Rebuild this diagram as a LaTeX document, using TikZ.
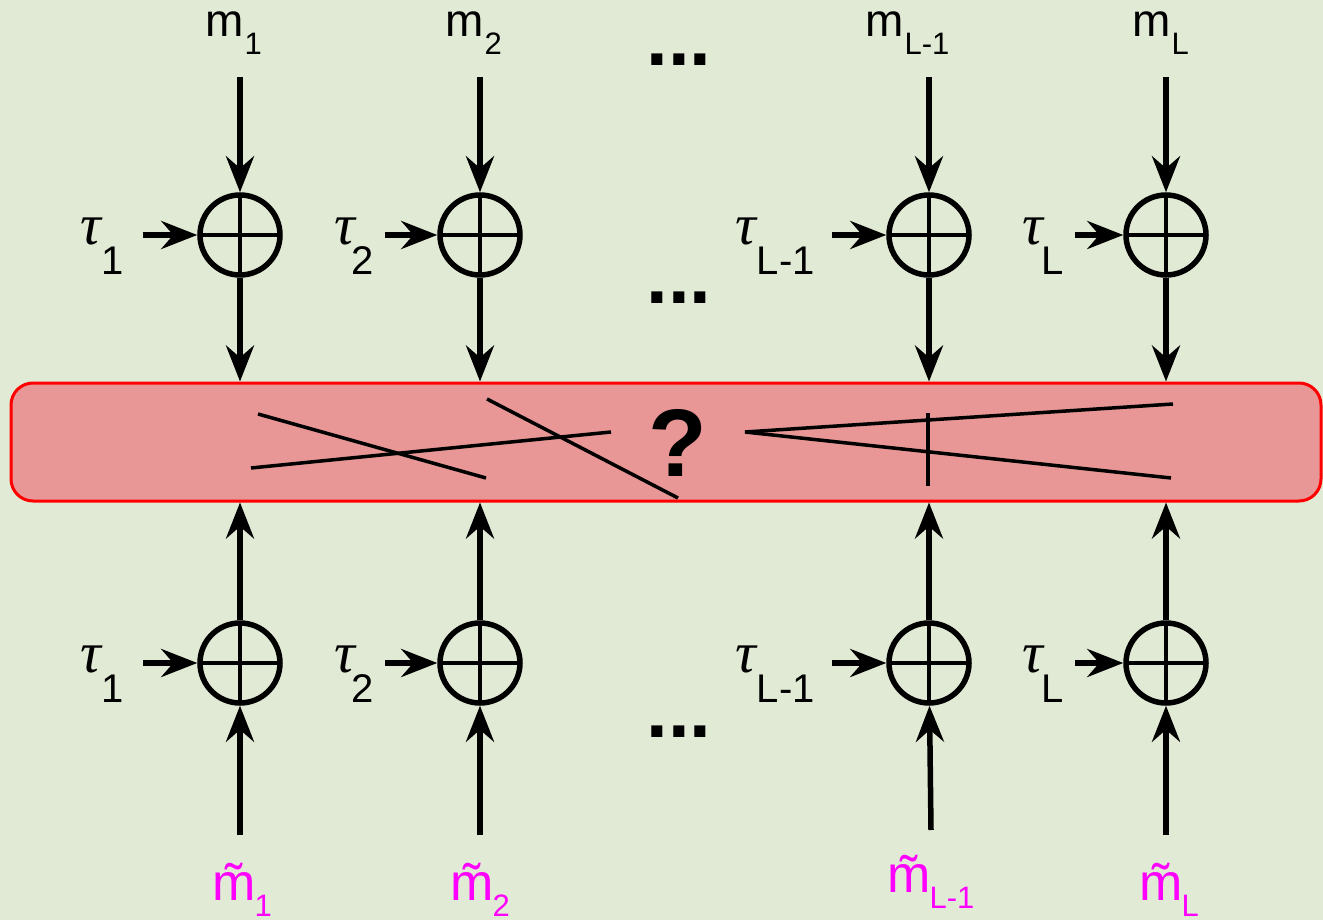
\documentclass[tikz,border=0pt]{standalone}
\usepackage{fontspec}
\setmainfont{Liberation Sans}
\newfontfamily\taufont{Liberation Serif}
\usetikzlibrary{arrows.meta}
\definecolor{bg}{RGB}{225,234,213}
\definecolor{boxfill}{RGB}{232,150,150}
\definecolor{mag}{RGB}{255,0,255}
\newcommand\fs[1]{\fontsize{#1}{#1}\selectfont}
\newcommand\tlab[3]{{\fs{58}\taufont\itshape τ}\kern#3\raisebox{-30pt}{\fs{40}#1}}
\newcommand\mlab[2]{{\fs{46}m}\kern#2\raisebox{-18pt}{\fs{31}#1}}
\newcommand\mtlab[2]{{\fs{52}\accent"02DC m}\kern#2\raisebox{-16pt}{\fs{31}#1}}
\tikzset{
  summer/.style={circle, draw, line width=5.5pt, minimum size=80pt, inner sep=0pt,
    path picture={\draw[line width=4.5pt] (path picture bounding box.north) -- (path picture bounding box.south)
      (path picture bounding box.west) -- (path picture bounding box.east);}},
  arr/.style={line width=5.5pt, -{Stealth[length=36pt,width=28pt,inset=12pt]}},
  lbl/.style={inner sep=0pt, anchor=base west},
  xline/.style={line width=3.5pt},
}
\begin{document}
\begin{tikzpicture}[x=1pt,y=-1pt]
\fill[bg] (0,0) rectangle (1323,920);
\useasboundingbox (0,0) rectangle (1323,920);
% box
\node[draw=red, fill=boxfill, line width=3pt, rounded corners=22pt, minimum width=1310pt, minimum height=118pt, inner sep=0pt] (box) at (666,442) {};
% summers
\foreach \n/\x in {1/240,2/480,3/929,4/1166}{
  \node[summer] (c\n t) at (\x,235) {};
  \node[summer] (c\n b) at (\x,663) {};
}
% top labels
\node[lbl] (m1) at (205,37) {\mlab{1}{1pt}};
\node[lbl] (m2) at (445,37) {\mlab{2}{1pt}};
\node[lbl] (m3) at (865,37) {\mlab{L-1}{1pt}};
\node[lbl] (m4) at (1132,37) {\mlab{L}{1pt}};
% bottom labels
\node[lbl, text=mag] (n1) at (212,900) {\mtlab{1}{-1pt}};
\node[lbl, text=mag] (n2) at (450,900) {\mtlab{2}{-1pt}};
\node[lbl, text=mag] (n3) at (887,892) {\mtlab{L-1}{-1pt}};
\node[lbl, text=mag] (n4) at (1139,900) {\mtlab{L}{-1pt}};
% tau labels
\foreach \r/\y in {t/244,b/672}{
  \node[lbl] (tau1\r) at (80,\y) {\tlab{1}{}{1pt}};
  \node[lbl] (tau2\r) at (334,\y) {\tlab{2}{}{-3pt}};
  \node[lbl] (tau3\r) at (735,\y) {\tlab{L-1}{}{1pt}};
  \node[lbl] (tau4\r) at (1022,\y) {\tlab{L}{}{-1pt}};
}
% coordinates
\foreach \n/\x/\tx in {1/240/143,2/480/385,3/929/832,4/1166/1075}{
  \coordinate (s\n) at (\x,77);
  \coordinate (ta\n t) at (\tx,235);
  \coordinate (ta\n b) at (\tx,663);
}
\coordinate (b1) at (240,835);
\coordinate (b2) at (480,835);
\coordinate (b3) at (931,830);
\coordinate (b4) at (1166,835);
% arrows
\foreach \n in {1,2,3,4}{
  \draw[arr] (s\n) -- (c\n t);
  \draw[arr] (ta\n t) -- (c\n t);
  \draw[arr] (c\n t) -- (c\n t |- box.north);
  \draw[arr] (ta\n b) -- (c\n b);
  \draw[arr] (c\n b) -- (c\n b |- box.south);
  \draw[arr] (b\n) -- (c\n b);
}
% dots
\node (d1) at (679,60) {\fs{78}\bfseries ...};
\node (d2) at (679,298) {\fs{78}\bfseries ...};
\node (d3) at (679,732) {\fs{78}\bfseries ...};
% box contents
\node (q) at (678,442.5) {\fs{96}\bfseries ?};
\draw[xline] (258,414) -- (486,478);
\draw[xline] (251,468) -- (611,432);
\draw[xline] (487,399) -- (678,498);
\draw[xline] (745,432) -- (1173,404);
\draw[xline] (745,432) -- (1171,478);
\draw[xline] (928,413) -- (928,486);
\end{tikzpicture}
\end{document}
